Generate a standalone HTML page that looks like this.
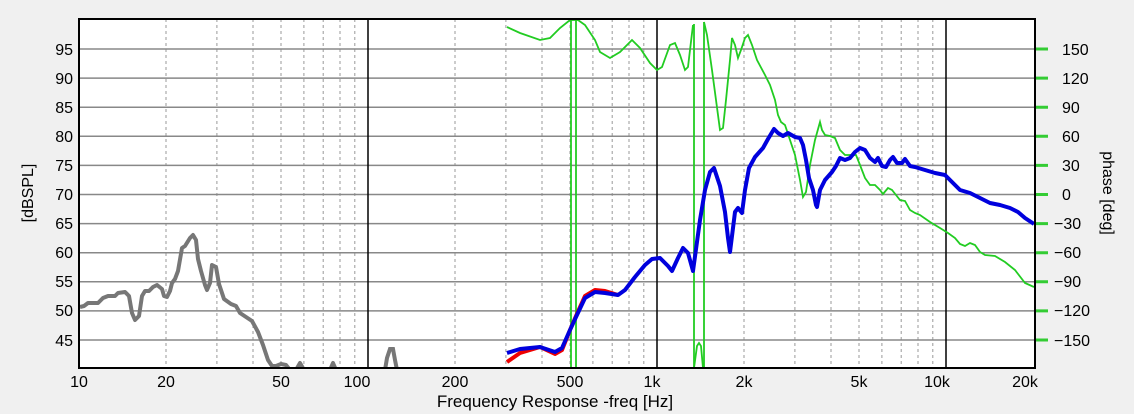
<!DOCTYPE html><html><head><style>body{margin:0;background:#f0f0f0}svg{display:block}text{font-family:"Liberation Sans",sans-serif;fill:#000}</style></head><body>
<svg width="1134" height="414" viewBox="0 0 1134 414">
<rect x="79" y="19" width="956" height="349" fill="#fff"/>
<path stroke="#999" stroke-width="1" stroke-dasharray="3,3" fill="none" d="M166,19V368M216.9,19V368M253,19V368M281,19V368M303.9,19V368M323.2,19V368M340,19V368M354.8,19V368M455,19V368M505.9,19V368M542,19V368M570,19V368M592.9,19V368M612.2,19V368M629,19V368M643.8,19V368M744,19V368M794.9,19V368M831,19V368M859,19V368M881.9,19V368M901.2,19V368M918,19V368M932.8,19V368"/>
<path stroke="#888" stroke-width="1.5" fill="none" d="M79,49H1035M79,78.1H1035M79,107.2H1035M79,136.3H1035M79,165.4H1035M79,194.5H1035M79,223.6H1035M79,252.7H1035M79,281.8H1035M79,310.9H1035M79,340H1035"/>
<path stroke="#000" stroke-width="1.5" fill="none" d="M368,19V368M657,19V368M946,19V368"/>
<path stroke="#3c3" stroke-width="3" fill="none" d="M1035,49H1048M1035,78.1H1048M1035,107.2H1048M1035,136.3H1048M1035,165.4H1048M1035,194.5H1048M1035,223.6H1048M1035,252.7H1048M1035,281.8H1048M1035,310.9H1048M1035,340H1048"/>
<g font-size="16" text-anchor="end">
<text x="73" y="55">95</text><text x="73" y="84">90</text><text x="73" y="113">85</text><text x="73" y="142">80</text><text x="73" y="171">75</text><text x="73" y="200">70</text><text x="73" y="229">65</text><text x="73" y="258">60</text><text x="73" y="287">55</text><text x="73" y="316">50</text><text x="73" y="346">45</text>
</g>
<g font-size="16">
<text x="1062" y="55">150</text><text x="1062" y="84">120</text><text x="1062" y="113">90</text><text x="1062" y="142">60</text><text x="1062" y="171">30</text><text x="1062" y="200">0</text><text x="1054" y="229">−30</text><text x="1054" y="258">−60</text><text x="1054" y="287">−90</text><text x="1054" y="316">−120</text><text x="1054" y="346">−150</text>
</g>
<g font-size="16" text-anchor="middle">
<text x="79" y="387">10</text><text x="166" y="387">20</text><text x="281" y="387">50</text><text x="357" y="387">100</text><text x="455" y="387">200</text><text x="570" y="387">500</text><text x="652" y="387">1k</text><text x="744" y="387">2k</text><text x="859" y="387">5k</text><text x="937" y="387">10k</text><text x="1025" y="387">20k</text>
</g>
<svg x="79" y="19" width="956" height="349" viewBox="79 19 956 349" overflow="hidden">
<polyline fill="none" stroke="#777" stroke-width="4" stroke-linejoin="round" points="80,307 84,306 88,303 98,303 103,298 108,296 115,296 118,293 125,292 129,296 132,313 135,320 139,316 142,296 145,291 149,291 153,287 157,285 162,289 164,296 167,297 170,291 172,283 175,279 178,271 182,248 185,246 190,238 193,235 196,240 198,259 201,271 205,285 207,290 210,283 212,265 216,267 219,284 224,299 231,304 236,306 240,313 246,317 252,321 258,332 263,345 268,360 272,366 276,366 281,364 286,365 290,370 296,370 300,363 304,370 330,370 333,363 336,370"/>
<polyline fill="none" stroke="#777" stroke-width="4" points="385,370 387,358 390,349 393,349 395,360 397,370"/>
<g stroke="#2c2" stroke-width="1.8" fill="none">
<polyline points="507,27 520,33 540,40 550,38 560,28 570,20 578,20 585,25 595,40 600,52 610,58 620,52 632,40 640,48 650,63 657,70 662,67 670,45 675,43 680,55 685,70 688,67 690,50 693,25"/>
<line x1="571" y1="19" x2="571" y2="368"/><line x1="576" y1="19" x2="576" y2="368"/>
<line x1="694" y1="24" x2="694" y2="368"/><line x1="704" y1="22" x2="704" y2="368"/>
<polyline points="694,368 697,346 699,343 701,346 703,368"/>
<polyline points="704,22 707,35 712,70 716,100 720,130 723,128 726,100 730,60 732,38 735,45 738,58 741,50 745,38 748,35 752,45 757,60 765,75 770,85 775,100 778,115 781,122 785,125 790,140 795,155 800,180 803,197 806,192 810,165 815,140 820,122 822,130 825,135 830,136 835,138 840,150 845,155 850,155 856,155 860,165 865,178 870,185 875,185 880,190 883,194 888,188 892,190 896,195 900,200 905,201 910,210 915,213 920,215 930,222 940,228 948,233 955,238 960,244 965,246 970,243 975,245 980,252 985,255 995,256 1005,262 1015,270 1025,283 1034,287"/>
</g>
<polyline fill="none" stroke="#e00" stroke-width="4" stroke-linejoin="round" points="507,362 520,353 540,347 555,354 562,350 570,330 576,316 585,296 595,290 605,291 618,295"/>
<polyline fill="none" stroke="#00d" stroke-width="4" stroke-linejoin="round" points="507,353 520,349 540,347 555,352 562,348 570,330 576,317 585,298 595,292 605,293 618,295 625,290 635,277 645,265 652,259 660,258 668,266 672,271 678,258 683,248 688,253 693,271 700,220 705,190 710,172 714,168 720,186 725,212 728,238 730,252 735,212 738,208 742,213 745,190 749,168 755,157 763,148 768,139 774,129 778,133 783,136 788,133 795,137 800,138 803,145 806,160 809,178 813,190 816,205 817,207 820,190 825,180 832,172 836,166 840,158 845,160 850,158 855,152 860,148 865,150 870,158 875,162 878,158 882,166 886,167 890,160 893,157 897,163 902,163 905,159 910,166 915,167 925,170 935,173 945,175 952,182 960,190 970,193 980,198 990,203 1000,205 1010,208 1018,212 1025,218 1034,224"/>
</svg>
<rect x="79" y="19" width="956" height="349" fill="none" stroke="#000" stroke-width="2"/>
<text x="555" y="407" font-size="17" text-anchor="middle">Frequency Response -freq [Hz]</text>
<text transform="translate(33,193) rotate(-90)" font-size="16" text-anchor="middle">[dBSPL]</text>
<text transform="translate(1103,193) rotate(90)" font-size="16" text-anchor="middle">phase [deg]</text>
</svg></body></html>
